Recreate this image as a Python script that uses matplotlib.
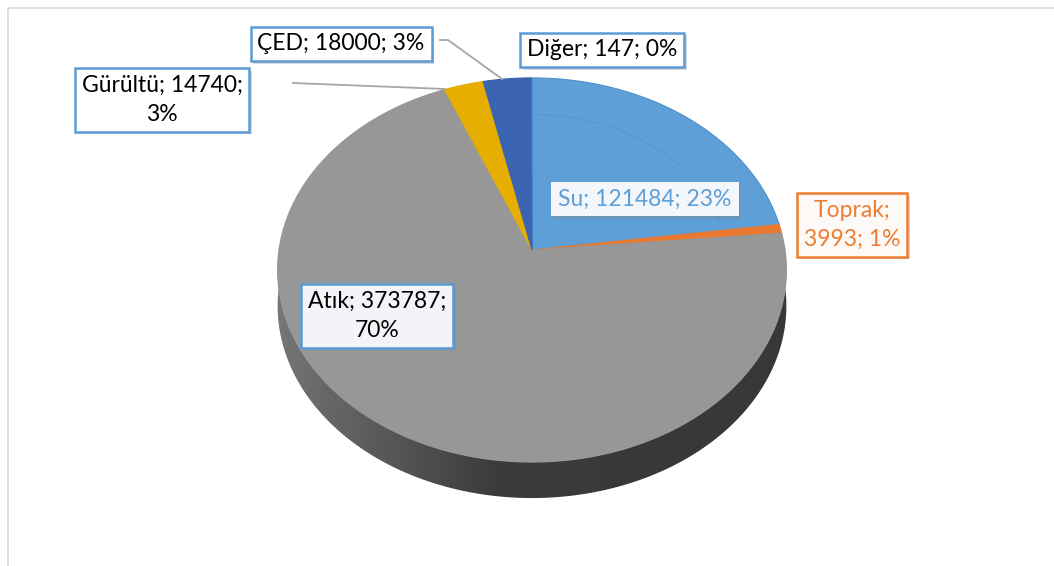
import numpy as np
import matplotlib
matplotlib.use('Agg')
import matplotlib.pyplot as plt
from matplotlib.patches import Polygon
import matplotlib.patheffects as pe

# Category totals
labels = ['Su', 'Toprak', 'Atık', 'Gürültü', 'ÇED', 'Diğer']
values = [121484, 3993, 373787, 14740, 18000, 147]
colors = ['#5F9FD7', '#E8792F', '#979797', '#E5AE00', '#3A63B0', '#6AAA45']

# Label box centres (pixel coords) and line breaks
label_pos = [(645, 199), (852, 225), (377, 316), (162, 100), (341, 44), (602, 50)]
label_wrap = [False, True, True, True, False, False]

plt.rcParams['font.family'] = ['Lato', 'DejaVu Sans']

W, H = 1054, 566
fig = plt.figure(figsize=(W / 100, H / 100), dpi=100)
ax = fig.add_axes([0, 0, 1, 1])
ax.set_xlim(0, W)
ax.set_ylim(H, 0)
ax.axis('off')

# chart area frame
ax.plot([8, 8, W + 5], [H + 5, 8, 8], color='#D9D9D9', lw=1.2, zorder=0)

# pie geometry with a little perspective
cx, cy = 532, 250
a, b, k = 190, 253, 0.104
depth = 36


def proj(theta_deg, r=1.0, dz=0.0):
    t = np.radians(theta_deg)
    u, v = r * np.sin(t), r * np.cos(t)
    d = 1 + k * v
    return cx + b * u / d, cy - a * v / d + dz


total = sum(values)
fracs = np.array(values) / total
bounds = np.concatenate([[0], np.cumsum(fracs) * 360])

# side wall (front half) filled with a left-to-right gradient
side_t = np.linspace(88, 272, 200)
top_edge = [proj(t) for t in side_t]
bot_edge = [proj(t, dz=depth) for t in side_t[::-1]]
side = Polygon(top_edge + bot_edge, closed=True, facecolor='none', edgecolor='none')
ax.add_patch(side)
xs = np.linspace(270, 800, 300)
shade = np.interp(xs, [270, 330, 500, 800], [0.47, 0.40, 0.23, 0.22])
grad = np.tile(shade, (2, 1))
img = ax.imshow(grad, cmap='gray', vmin=0, vmax=1, extent=[270, 800, 520, 200],
                aspect='auto', interpolation='bilinear', zorder=1)
img.set_clip_path(side)
ax.set_xlim(0, W)
ax.set_ylim(H, 0)

# top surface slices
for i, col in enumerate(colors):
    ts = np.linspace(bounds[i], bounds[i + 1], max(int((bounds[i + 1] - bounds[i]) * 2), 2))
    pts = [(cx, cy)] + [proj(t) for t in ts]
    edge = '#4F8FCB' if i == 0 else col
    lw = 0 if i == len(colors) - 1 else 0.8
    ax.add_patch(Polygon(pts, closed=True, facecolor=col, edgecolor=edge,
                         lw=lw, zorder=2))

# faint highlight ring on the first slice
ts = np.linspace(bounds[0] + 0.5, bounds[1] - 4, 80)
ring = np.array([proj(t, 0.77) for t in ts])
ax.plot(ring[:, 0], ring[:, 1], color='#4F8FCB', lw=0.8, alpha=0.5, zorder=3)

# leader lines
ax.plot([440, 448, 502], [40, 40, 79], color='#A6A6A6', lw=1.3, zorder=3)
ax.plot([293, 445], [83, 89], color='#A6A6A6', lw=1.3, zorder=3)

shadow = [pe.SimplePatchShadow(offset=(2, -2), shadow_rgbFace='#7F7F7F', alpha=0.3), pe.Normal()]

for i, lab in enumerate(labels):
    pct = round(fracs[i] * 100)
    if label_wrap[i]:
        if i == 1:
            txt = f'{lab};\n{values[i]}; {pct}%'
        else:
            txt = f'{lab}; {values[i]};\n{pct}%'
    else:
        txt = f'{lab}; {values[i]}; {pct}%'
    if i == 0:
        tc, ec, fc = colors[0], 'none', '#F3F6FA'
    elif i == 1:
        tc, ec, fc = '#ED7D31', '#ED7D31', '#FDF9F6'
    else:
        tc, ec, fc = 'black', '#5B9BD5', '#F2F4F8' if i == 2 else 'white'
    t = ax.text(label_pos[i][0], label_pos[i][1], txt, ha='center', va='center',
                fontsize=16.5, color=tc, linespacing=1.45, zorder=5,
                bbox=dict(boxstyle='square,pad=0.3', facecolor=fc, edgecolor=ec, lw=1.8))
    t.get_bbox_patch().set_path_effects(shadow)

fig.savefig('out.png', dpi=100)
